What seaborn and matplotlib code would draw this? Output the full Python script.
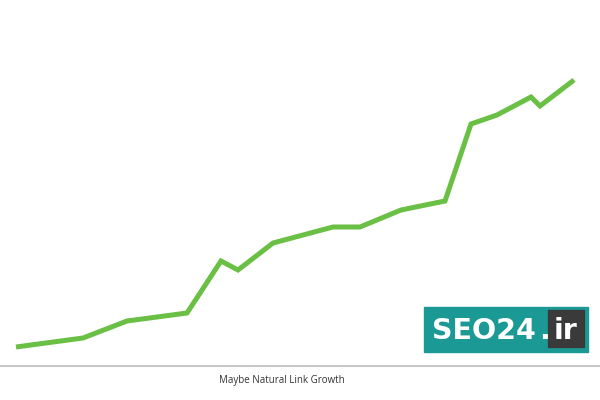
import matplotlib
matplotlib.use('Agg')
import matplotlib.pyplot as plt
import seaborn as sns
import pandas as pd
from matplotlib.patches import Rectangle

# Values
x_pos = [16, 83, 127, 187, 221, 238, 273, 333, 360, 401, 445, 471, 497, 531, 540, 574]
links = [19, 28, 45, 53, 105, 96, 123, 139, 139, 156, 165, 242, 251, 269, 260, 286]
caption = 'Maybe Natural Link Growth'

df = pd.DataFrame({'x': x_pos, 'links': links})

sns.set_theme(style='white')
fig = plt.figure(figsize=(6, 4), dpi=100)
ax = fig.add_axes([0, 0, 1, 1])

sns.lineplot(data=df, x='x', y='links', ax=ax, color='#6abf45', linewidth=3.6,
             solid_joinstyle='miter', solid_capstyle='butt')
ax.axhline(0, color='#c8c8c8', linewidth=1.5)

ax.set_xlim(0, 600)
ax.set_ylim(-34, 366)
ax.axis('off')

# caption under the baseline
fig.text(282 / 600, 1 - 381 / 400, caption, ha='center', va='center',
         fontsize=7, color='#333333', family='Open Sans')

# watermark logo
def fx(px):
    return px / 600

def fy(py):
    return 1 - py / 400

fig.patches.append(Rectangle((fx(424), fy(352)), fx(588 - 424), 45 / 400,
                             transform=fig.transFigure, color='#1b9a95'))
fig.patches.append(Rectangle((fx(548), fy(347)), fx(584 - 548), 37 / 400,
                             transform=fig.transFigure, color='#3a3a3a'))
fig.text(fx(432), fy(339), 'SEO24', ha='left', va='baseline',
         fontsize=20.5, color='white', fontweight='bold', family='DejaVu Sans')
fig.text(fx(544), fy(339), '.', ha='center', va='baseline',
         fontsize=20.5, color='white', fontweight='bold', family='DejaVu Sans')
fig.text(fx(566), fy(339), 'ir', ha='center', va='baseline',
         fontsize=20.5, color='white', fontweight='bold', family='DejaVu Sans')

fig.savefig('out.png', dpi=100)
